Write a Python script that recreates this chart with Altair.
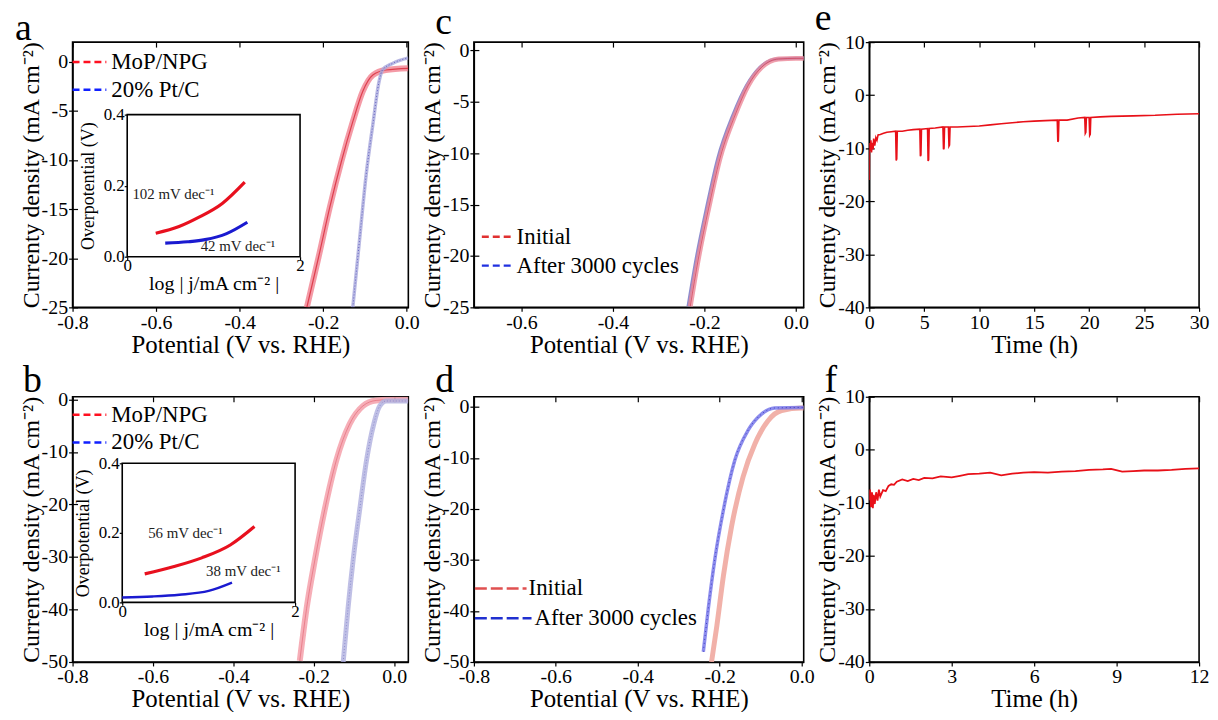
import altair as alt
import pandas as pd

SERIF = "Liberation Serif"

# ---------------- data ----------------
# panel a : HER polarization curves
a_names = ["MoP/NPG", "20% Pt/C"]
a_mop_v = [-0.239, -0.211, -0.184, -0.156, -0.129, -0.105, -0.081, -0.05, 0.004]
a_mop_j = [-25, -19.9, -14.8, -10.1, -6.1, -3.0, -1.35, -0.84, -0.67]
a_pt_v = [-0.129, -0.113, -0.097, -0.081, -0.066, -0.058, -0.034, 0.004]
a_pt_j = [-25, -18.2, -11.5, -6.4, -2.0, -0.84, -0.17, 0.4]
# inset a : Tafel plots
a_tf_mop_x = [0.33, 0.6, 0.82, 1.1, 1.36]
a_tf_mop_y = [0.066, 0.085, 0.11, 0.15, 0.21]
a_tf_pt_x = [0.44, 0.7, 0.9, 1.15, 1.39]
a_tf_pt_y = [0.038, 0.042, 0.048, 0.065, 0.097]
a_notes = ["102 mV dec\u207b\u00b9", "42 mV dec\u207b\u00b9"]
a_notes_x = [0.06, 0.85]
a_notes_y = [0.177, 0.03]

# panel b
b_names = ["MoP/NPG", "20% Pt/C"]
b_mop_v = [-0.235, -0.218, -0.197, -0.173, -0.144, -0.111, -0.078, -0.045, 0.0, 0.035]
b_mop_j = [-49.8, -39.8, -30.4, -21, -11.6, -4.7, -1.25, -0.2, 0.0, 0.0]
b_pt_v = [-0.127, -0.115, -0.102, -0.086, -0.069, -0.051, -0.036, -0.02, 0.0, 0.035]
b_pt_j = [-50, -39.8, -30.4, -21, -11.6, -4.7, -1.25, -0.3, -0.3, -0.3]
b_tf_mop_x = [0.26, 0.6, 0.92, 1.25, 1.53]
b_tf_mop_y = [0.082, 0.103, 0.128, 0.165, 0.218]
b_tf_pt_x = [0.0, 0.35, 0.66, 1.0, 1.27]
b_tf_pt_y = [0.014, 0.017, 0.022, 0.033, 0.057]
b_notes = ["56 mV dec\u207b\u00b9", "38 mV dec\u207b\u00b9"]
b_notes_x = [0.3, 0.97]
b_notes_y = [0.2, 0.09]

# panel c : durability (before / after cycling)
c_names = ["Initial", "After 3000 cycles"]
c_init_v = [-0.231, -0.213, -0.191, -0.166, -0.133, -0.104, -0.075, -0.038, 0.0, 0.02]
c_init_j = [-24.9, -20.2, -15.4, -10.5, -6.3, -3.4, -1.65, -0.84, -0.78, -0.78]
c_after_v = [-0.236, -0.218, -0.196, -0.171, -0.138, -0.108, -0.079, -0.042, 0.0, 0.02]
c_after_j = [-24.9, -20.2, -15.4, -10.5, -6.3, -3.4, -1.65, -0.84, -0.78, -0.78]

# panel d
d_names = ["Initial", "After 3000 cycles"]
d_init_v = [-0.22, -0.207, -0.191, -0.171, -0.143, -0.114, -0.082, -0.049, 0.0, 0.005]
d_init_j = [-50, -42.9, -33.1, -23.4, -13.7, -7.2, -2.7, -0.7, -0.2, -0.2]
d_after_v = [-0.24, -0.228, -0.212, -0.191, -0.163, -0.131, -0.098, -0.066, 0.0, 0.005]
d_after_j = [-48, -39.6, -29.9, -20.2, -10.4, -4.6, -1.4, -0.2, -0.1, -0.1]

# panel e : chronoamperometry, 30 h
e_t = [0, 0.02, 0.1, 0.15, 0.2, 0.3, 0.35, 0.4, 0.5, 0.6, 0.7, 0.8, 1.0, 1.3, 1.6, 2.0,
       2.4, 2.45, 2.5, 2.55, 3.0, 3.5, 4.0, 4.6, 4.65, 4.7, 4.75, 5.3, 5.35, 5.4, 5.45,
       6.0, 6.7, 6.75, 6.8, 6.85, 7.2, 7.25, 7.3, 7.35, 8, 9, 10, 11, 12, 13, 14, 15, 16,
       17.1, 17.15, 17.2, 17.25, 18, 19, 19.6, 19.65, 19.7, 19.75, 20.0, 20.05, 20.1,
       20.15, 21, 22, 24, 26, 28, 30]
e_j = [-16, -9, -10.5, -8.5, -10.8, -9, -10.2, -8.2, -9.5, -8, -8.5, -7.5, -7.4, -7.2, -7.0, -6.9,
       -6.8, -12.3, -12.0, -6.8, -6.8, -6.6, -6.5, -6.4, -11.5, -11.3, -6.4, -6.3, -12.4, -12.2, -6.3,
       -6.2, -6.0, -10.2, -10.0, -6.0, -6.0, -9.6, -9.4, -6.0, -6.0, -5.9, -5.8, -5.6, -5.4, -5.2, -5.0, -4.9, -4.8,
       -4.7, -8.8, -8.6, -4.7, -4.7, -4.3, -4.2, -7.2, -7.0, -4.2, -4.2, -7.6, -7.4,
       -4.2, -4.1, -4.0, -3.9, -3.8, -3.6, -3.5]

# panel f : chronoamperometry, 12 h
f_t = [0, 0.03, 0.06, 0.1, 0.13, 0.16, 0.2, 0.25, 0.3, 0.35, 0.4, 0.5, 0.6, 0.7, 0.8, 0.9, 1.0,
       1.2, 1.4, 1.6, 1.8, 2.0, 2.3, 2.6, 3.0, 3.3, 3.6, 4.0, 4.4, 4.8, 5.2, 5.6, 6.0, 6.5,
       7.0, 7.5, 8.0, 8.5, 8.8, 9.2, 9.6, 10.0, 10.5, 11.0, 11.5, 12.0]
f_j = [-9.5, -7.5, -10.8, -8.0, -11.0, -8.5, -10.2, -8.0, -9.6, -7.5, -8.8, -7.6, -7.8, -6.8, -6.5,
       -6.6, -6.0, -5.6, -5.9, -5.5, -5.7, -5.3, -5.4, -5.0, -5.2, -4.9, -4.6, -4.5, -4.3, -4.8,
       -4.5, -4.3, -4.2, -4.3, -4.1, -4.0, -3.8, -3.7, -3.6, -4.1, -4.0, -3.9, -3.9, -3.8, -3.6, -3.5]

inset_x_domain = [0, 2]
inset_y_domain = [0, 0.4]

# ---------------- helpers ----------------
W1, W2, W3, H = 338, 332, 332, 267
YTITLE = "Currenty density (mA cm\u207b\u00b2)"
XTITLE = "Potential (V vs. RHE)"
ONE = pd.DataFrame({"k": [0]})


def fmt(dec):
    return f"(datum.value < 0 ? '-' : '') + format(abs(datum.value), '.{dec}f')"


def main_axes(xdom, ydom, xvals, yvals, xdec, xtitle):
    X = alt.X("v:Q", scale=alt.Scale(domain=xdom, nice=False, zero=False),
              axis=alt.Axis(values=xvals, labelExpr=fmt(xdec), title=xtitle,
                            labelFontSize=20, titleFontSize=25, tickSize=4,
                            labelPadding=1, titlePadding=0, labelFlush=False,
                            labelOverlap=False))
    Y = alt.Y("j:Q", scale=alt.Scale(domain=ydom, nice=False, zero=False),
              axis=alt.Axis(values=yvals, labelExpr=fmt(0), title=YTITLE,
                            labelFontSize=20, titleFontSize=24, tickSize=4,
                            labelPadding=1, titlePadding=-2, labelFlush=False,
                            labelOverlap=False))
    return X, Y


def curve(v, j, X, Y, color, width, opacity=1.0, dash=None, interp="monotone"):
    df = pd.DataFrame({"v": v, "j": j})
    kw = dict(color=color, strokeWidth=width, opacity=opacity, interpolate=interp, clip=True)
    if dash:
        kw["strokeDash"] = dash
    return alt.Chart(df).mark_line(**kw).encode(x=X, y=Y)


def letter(ch, dx, dy):
    return alt.Chart(ONE).mark_text(text=ch, font=SERIF, fontSize=38, align="left",
                                    baseline="alphabetic", color="black").encode(
        x=alt.value(dx), y=alt.value(dy))


def legend_row(label, color, x0, x1, tx, y, dash):
    r = alt.Chart(ONE).mark_rule(color=color, strokeWidth=2.5, strokeDash=dash).encode(
        x=alt.value(x0), x2=alt.value(x1), y=alt.value(y))
    t = alt.Chart(ONE).mark_text(text=label, font=SERIF, fontSize=23, align="left",
                                 baseline="middle", color="black").encode(
        x=alt.value(tx), y=alt.value(y))
    return [r, t]


def inset(mx, my, px, py, pt_width, notes, nx, ny, xr, yr, xoff, yoff):
    xs = alt.Scale(domain=inset_x_domain, range=xr, nice=False, zero=False)
    ys = alt.Scale(domain=inset_y_domain, range=yr, nice=False, zero=False)
    X = alt.X("x:Q", scale=xs,
              axis=alt.Axis(orient="bottom", offset=xoff, values=[0, 1, 2], format="d",
                            title="log  |  j/mA cm\u207b\u00b2  |", labelFontSize=17,
                            titleFontSize=20, tickSize=3, labelPadding=-2, titlePadding=0,
                            grid=False, labelFlush=False, domain=False))
    Y = alt.Y("y:Q", scale=ys,
              axis=alt.Axis(orient="left", offset=yoff, values=[0, 0.2, 0.4], format=".1f",
                            title="Overpotential (V)", labelFontSize=17, titleFontSize=18,
                            tickSize=3, labelPadding=0, titlePadding=6, grid=False,
                            labelFlush=False, domain=False))
    box = alt.Chart(pd.DataFrame({"x": [inset_x_domain[0]], "x2": [inset_x_domain[1]],
                                  "y": [inset_y_domain[0]], "y2": [inset_y_domain[1]]})).mark_rect(
        fill="white", stroke="black", strokeWidth=1.6).encode(x=X, x2="x2", y=Y, y2="y2")
    red = alt.Chart(pd.DataFrame({"x": mx, "y": my})).mark_line(
        color="#e8101e", strokeWidth=3.2, interpolate="monotone").encode(x=X, y=Y)
    blue = alt.Chart(pd.DataFrame({"x": px, "y": py})).mark_line(
        color="#1a1ad0", strokeWidth=pt_width, interpolate="monotone").encode(x=X, y=Y)
    txt = alt.Chart(pd.DataFrame({"x": nx, "y": ny, "t": notes})).mark_text(
        font=SERIF, fontSize=15, align="left", baseline="middle", color="#222").encode(
        x=X, y=Y, text="t:N")
    return alt.layer(box, red, blue, txt)


# ---------------- panel a ----------------
X, Y = main_axes([-0.8, 0.004], [-25, 2], [-0.8, -0.6, -0.4, -0.2, 0.0],
                 [0, -5, -10, -15, -20, -25], 1, XTITLE)
pa_main = alt.layer(
    curve(a_mop_v, a_mop_j, X, Y, "#f07888", 6, 0.75),
    curve(a_mop_v, a_mop_j, X, Y, "#d82838", 1.2, 0.8),
    curve(a_pt_v, a_pt_j, X, Y, "#a8a8dc", 3.5, 0.8),
    curve(a_pt_v, a_pt_j, X, Y, "#5050b8", 1, 0.8, dash=[1, 2]),
    *legend_row(a_names[0], "#ff1020", 0, 34, 39, 20, [7, 4]),
    *legend_row(a_names[1], "#1020ff", 0, 34, 39, 48, [7, 4]),
    letter("a", -58, -2),
)
pa_in = inset(a_tf_mop_x, a_tf_mop_y, a_tf_pt_x, a_tf_pt_y, 3.2, a_notes, a_notes_x,
              a_notes_y, [55, 229], [216, 73], -51, -55)
panel_a = alt.layer(pa_main, pa_in).resolve_scale(x="independent", y="independent").properties(
    width=W1, height=H)

# ---------------- panel b ----------------
X, Y = main_axes([-0.8, 0.035], [-50, 0.5], [-0.8, -0.6, -0.4, -0.2, 0.0],
                 [0, -10, -20, -30, -40, -50], 1, XTITLE)
pb_main = alt.layer(
    curve(b_mop_v, b_mop_j, X, Y, "#f4a0aa", 6, 0.85),
    curve(b_mop_v, b_mop_j, X, Y, "#e06070", 1, 0.6),
    curve(b_pt_v, b_pt_j, X, Y, "#b4b4e0", 5, 0.85),
    curve(b_pt_v, b_pt_j, X, Y, "#7070c0", 1, 0.6, dash=[1, 2]),
    *legend_row(b_names[0], "#ff1020", 0, 34, 39, 18, [7, 4]),
    *legend_row(b_names[1], "#1020ff", 0, 34, 39, 46, [7, 4]),
    letter("b", -50, -5),
)
pb_in = inset(b_tf_mop_x, b_tf_mop_y, b_tf_pt_x, b_tf_pt_y, 2.4, b_notes, b_notes_x,
              b_notes_y, [50, 224], [207, 67], -60, -50)
panel_b = alt.layer(pb_main, pb_in).resolve_scale(x="independent", y="independent").properties(
    width=W1, height=H)

# ---------------- panel c ----------------
X, Y = main_axes([-0.704, 0.017], [-25, 0.8], [-0.6, -0.4, -0.2, 0.0],
                 [0, -5, -10, -15, -20, -25], 1, XTITLE)
panel_c = alt.layer(
    curve(c_after_v, c_after_j, X, Y, "#8080c8", 3, 0.9),
    curve(c_init_v, c_init_j, X, Y, "#ec8898", 5, 0.8),
    curve(c_init_v, c_init_j, X, Y, "#c83048", 1, 0.6),
    *legend_row(c_names[0], "#e03030", 8, 40, 43, 196, [7, 4]),
    *legend_row(c_names[1], "#2030e0", 8, 40, 43, 225, [7, 4]),
    letter("c", -39, -8),
).properties(width=W2, height=H)

# ---------------- panel d ----------------
X, Y = main_axes([-0.8, 0.005], [-50, 2], [-0.8, -0.6, -0.4, -0.2, 0.0],
                 [0, -10, -20, -30, -40, -50], 1, XTITLE)
panel_d = alt.layer(
    curve(d_init_v, d_init_j, X, Y, "#f0a8a0", 5, 0.9),
    curve(d_after_v, d_after_j, X, Y, "#7878ea", 3.5, 0.85),
    curve(d_after_v, d_after_j, X, Y, "#2020b0", 1, 0.7, dash=[1, 3]),
    *legend_row(d_names[0], "#e05050", 1, 53, 55, 193, [12, 4]),
    *legend_row(d_names[1], "#2030d0", 1, 58, 61, 223, [12, 4]),
    letter("d", -39, -5),
).properties(width=W2, height=H)

# ---------------- panel e ----------------
X, Y = main_axes([0, 30], [-40, 10], [0, 5, 10, 15, 20, 25, 30],
                 [10, 0, -10, -20, -30, -40], 0, "Time (h)")
panel_e = alt.layer(
    curve(e_t, e_j, X, Y, "#e81018", 1.6, 1.0, interp="linear"),
    letter("e", -55, -12),
).properties(width=W3, height=H)

# ---------------- panel f ----------------
X, Y = main_axes([0, 12], [-40, 10], [0, 3, 6, 9, 12],
                 [10, 0, -10, -20, -30, -40], 0, "Time (h)")
panel_f = alt.layer(
    curve(f_t, f_j, X, Y, "#e81018", 1.8, 1.0, interp="linear"),
    letter("f", -45, -5),
).properties(width=W3, height=H)

chart = alt.concat(
    panel_a, panel_c, panel_e, panel_b, panel_d, panel_f,
    columns=3,
    spacing=alt.RowColnumber(row=90, column=66),
    bounds="flush",
).properties(
    autosize=alt.AutoSizeParams(type="none"),
    padding={"left": 65, "top": 32, "right": 1145, "bottom": 672},
    background="white",
).configure_view(
    stroke="black", strokeWidth=1.6
).configure_axis(
    labelFont=SERIF, titleFont=SERIF, labelColor="black", titleColor="black",
    titleFontWeight="normal", domainColor="black", domainWidth=1.4, tickColor="black",
    tickWidth=1.2, grid=True, gridColor="black", gridDash=[5, 3000], gridWidth=1.2,
    gridOpacity=1,
)

chart.save("out.html", embed_options={"renderer": "svg", "actions": False})
